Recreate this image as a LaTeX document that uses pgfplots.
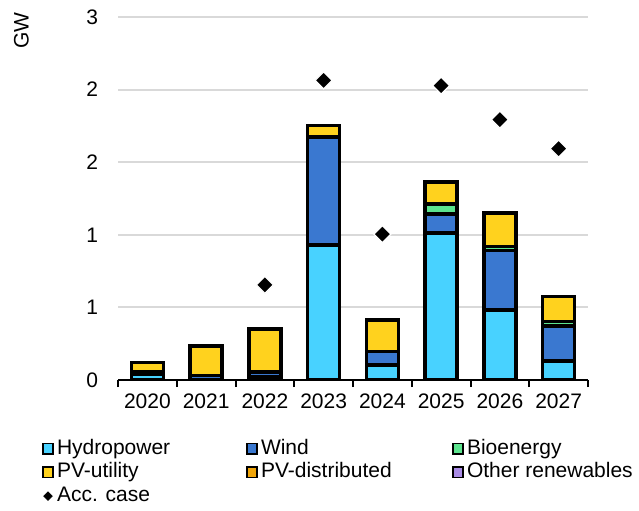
\documentclass[border=0pt]{standalone}
\usepackage{fontspec}
\setmainfont{Liberation Sans}
\usepackage{pgfplots}
\pgfplotsset{compat=1.18}
\usepackage{pgfplotstable}

\definecolor{hydro}{RGB}{72,210,255}
\definecolor{wind}{RGB}{58,120,208}
\definecolor{bio}{RGB}{92,228,142}
\definecolor{pvutil}{RGB}{255,210,30}
\definecolor{pvdist}{RGB}{240,165,10}
\definecolor{otherren}{RGB}{170,140,230}
\definecolor{gridgray}{RGB}{217,217,217}

% Capacity additions by year (GW); x = 0 is 2020
\pgfplotstableread{
x hydro wind bio pvu
0 0.040 0.020 0.000 0.060
1 0.005 0.025 0.000 0.205
2 0.020 0.035 0.000 0.296
3 0.930 0.745 0.000 0.077
4 0.103 0.092 0.000 0.219
5 1.011 0.131 0.069 0.151
6 0.483 0.409 0.027 0.230
7 0.131 0.241 0.030 0.172
}\capdata

% Accelerated case totals (GW)
\pgfplotstableread{
x acc
2 0.655
3 2.064
4 1.005
5 2.028
6 1.793
7 1.593
}\accdata

\pgfplotsset{
  common/.style={width=235pt, height=181.5pt, scale only axis,
    xmin=-0.5, xmax=7.5, ymin=0, ymax=2.5},
  sqleg/.style={legend image code/.code={%
      \draw[##1, line width=0.8pt] (0pt,-2.6pt) rectangle (5.2pt,2.6pt);}},
  seg/.style={draw=black, line width=1.75pt, fill=#1, sqleg},
  accleg/.style={legend image code/.code={%
      \draw[mark repeat=1,##1] plot coordinates {(2.6pt,0pt)};}},
}

\begin{document}
\begin{tikzpicture}[font=\fontsize{10.5}{12.6}\selectfont]
\begin{axis}[common, name=main,
  ybar stacked, bar width=16pt,
  axis x line*=bottom, axis y line*=left,
  y axis line style={draw=none},
  x axis line style={line width=1pt},
  /pgf/number format/assume math mode=true,
  ytick={0,0.5,1,1.5,2,2.5},
  yticklabels={0,1,1,2,2,3},
  xtick={0,1,2,3,4,5,6,7},
  xticklabels={2020,2021,2022,2023,2024,2025,2026,2027},
  minor xtick={-0.5,0.5,1.5,2.5,3.5,4.5,5.5,6.5,7.5},
  major tick length=0pt, minor tick length=3.5pt,
  tick align=outside,
  every minor tick/.append style={black, line width=1pt},
  yticklabel style={xshift=-6.5pt},
  xticklabel style={yshift=-3.6pt},
  ymajorgrids, grid style={gridgray, line width=1pt},
  ylabel={GW},
  ylabel style={at={(-0.2053,0.962)}, anchor=center, rotate=0},
  legend columns=3,
  legend cell align=left,
  legend style={at={(-0.1617,-0.1625)}, anchor=north west,
    draw=none, fill=none, inner sep=0pt, outer sep=0pt,
    /tikz/column sep=0pt, /tikz/row sep=2.4pt,
    nodes={inner xsep=1.5pt, inner ysep=0pt, text height=7.5pt,
      text depth=2pt, anchor=west}},
]
\addplot[seg=hydro] table[x=x, y=hydro] {\capdata};
\addlegendentry{\makebox[93pt][l]{Hydropower}}
\addplot[seg=wind] table[x=x, y=wind] {\capdata};
\addlegendentry{\makebox[94pt][l]{Wind}}
\addplot[seg=bio] table[x=x, y=bio] {\capdata};
\addlegendentry{Bioenergy}
\addplot[seg=pvutil] table[x=x, y=pvu] {\capdata};
\addlegendentry{PV-utility}
\addlegendimage{seg=pvdist}
\addlegendentry{PV-distributed}
\addlegendimage{seg=otherren}
\addlegendentry{Other renewables}
\addlegendimage{only marks, mark=square*, mark size=1.5pt,
  mark options={rotate=45, fill=black, draw=black}, accleg}
\addlegendentry{Acc. case}
\end{axis}

\begin{axis}[common, hide axis]
\addplot[only marks, mark=square*, mark size=3pt,
  mark options={rotate=45, fill=black, draw=white, line width=0.6pt}]
  table[x=x, y=acc] {\accdata};
\end{axis}

\pgfresetboundingbox
\path[use as bounding box] ([xshift=-59pt,yshift=-65pt]main.south west)
  rectangle ([xshift=25.5pt,yshift=8.5pt]main.north east);
\end{tikzpicture}
\end{document}
